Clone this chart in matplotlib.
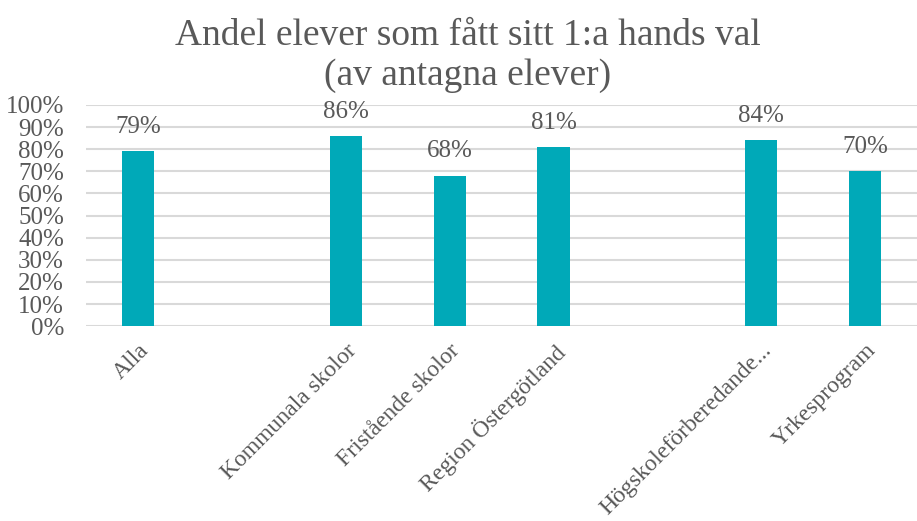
import matplotlib.pyplot as plt
import numpy as np

categories = ["Alla", "", "Kommunala skolor", "Fristående skolor", "Region Östergötland",
              "", "Högskoleförberedande...", "Yrkesprogram"]
values = [0.79, np.nan, 0.86, 0.68, 0.81, np.nan, 0.84, 0.70]

plt.rcParams["font.family"] = ["Liberation Serif", "DejaVu Serif"]
text_col = "#595959"
bar_col = "#00A9B8"

fig = plt.figure(figsize=(9.17, 5.21), dpi=100)
ax = fig.add_axes([0.094, 0.374, 0.906, 0.4245])

x = np.arange(len(categories))
bars = ax.bar(x, values, width=0.31, color=bar_col, zorder=3)
for xi, v in zip(x, values):
    if not np.isnan(v):
        ax.text(xi, v + 0.06, f"{v:.0%}", ha="center", va="bottom", fontsize=18, color=text_col)

ax.set_xlim(-0.5, len(categories) - 0.5)
ax.set_ylim(0, 1)
ax.set_yticks(np.arange(0, 1.01, 0.1))
ax.set_yticklabels([f"{int(round(t*100))}%" for t in np.arange(0, 1.01, 0.1)])
ax.yaxis.grid(True, color="#d9d9d9", linewidth=1.5, zorder=0)
ax.set_xticks(x)
ax.set_xticklabels(categories, rotation=45, ha="right", rotation_mode="anchor")
ax.tick_params(axis="y", length=0, labelsize=18, colors=text_col, pad=16)
ax.tick_params(axis="x", length=0, labelsize=17, colors=text_col, pad=10)
for s in ax.spines.values():
    s.set_visible(False)

fig.suptitle("Andel elever som fått sitt 1:a hands val\n(av antagna elever)",
             x=0.51, y=0.965, fontsize=27, color=text_col, linespacing=1.2)

fig.savefig("out.png", dpi=100)
